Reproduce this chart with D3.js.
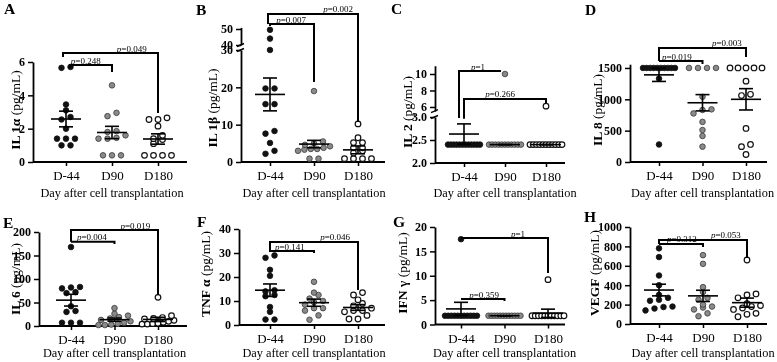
<!DOCTYPE html>
<html><head><meta charset="utf-8">
<script src="https://cdn.jsdelivr.net/npm/d3@7"></script>
<style>
body{margin:0;background:#fff;}
svg{display:block;font-family:"Liberation Serif","Times New Roman",serif;filter:grayscale(100%);}
</style></head><body>
<svg id="chart" width="777" height="362"></svg>
<script>
const categories = ["D-44","D90","D180"];
const xAxisTitle = "Day after cell transplantation";

// A: IL 1α
const il1aD44 = [5.7, 5.65, 3.45, 3.1, 2.7, 2.55, 2.0, 1.4, 1.4, 1.4, 1.0, 1.0];
const il1aD90 = [4.6, 2.95, 2.75, 1.85, 1.8, 1.6, 1.45, 1.4, 1.4, 0.4, 0.4, 0.4];
const il1aD180 = [2.65, 2.55, 2.55, 2.15, 1.6, 1.4, 1.35, 1.1, 0.4, 0.4, 0.4, 0.4];
const il1aMean = [2.58, 1.77, 1.38];
const il1aSem = [0.47, 0.37, 0.31];
const il1aP = ["0.049", "0.248"];
const il1aTicks = [0, 2, 4, 6];

// B: IL 1β (broken axis)
const il1bD44 = [49.5, 44, 30, 19.7, 19.7, 15.5, 15.5, 8.3, 7.6, 5.1, 3.0, 2.2];
const il1bD90 = [19, 5.5, 5.0, 4.6, 4.2, 3.8, 3.5, 3.5, 3.3, 3.0, 0.9, 0.9];
const il1bD180 = [10.2, 6.5, 5.2, 5.2, 3.8, 3.8, 3.0, 2.4, 0.9, 0.9, 0.9, 0.9];
const il1bMean = [18.1, 4.8, 3.25];
const il1bSem = [4.4, 1.0, 1.05];
const il1bP = ["0.002", "0.007"];
const il1bTicksLow = [0, 10, 20, 30];
const il1bTicksHigh = [40, 50];

// C: IL 2 (broken axis)
const il2D44 = [2.4, 2.4, 2.4, 2.4, 2.4, 2.4, 2.4, 2.4, 2.4, 2.4, 2.4, 2.4];
const il2D90 = [10.0, 2.4, 2.4, 2.4, 2.4, 2.4, 2.4, 2.4, 2.4, 2.4, 2.4, 2.4];
const il2D180 = [6.1, 2.4, 2.4, 2.4, 2.4, 2.4, 2.4, 2.4, 2.4, 2.4, 2.4, 2.4];
const il2Mean = [2.63, 2.4, 2.4];
const il2Sem = [0.22, 0, 0];
const il2P = ["1", "0.266"];
const il2TicksLow = [2.0, 2.5, 3.0];
const il2TicksHigh = [6, 8, 10];

// D: IL 8
const il8D44 = [1500, 1500, 1500, 1500, 1500, 1500, 1500, 1500, 1500, 1500, 1330, 280];
const il8D90 = [1500, 1500, 1500, 1500, 1040, 840, 830, 775, 640, 510, 415, 245];
const il8D180 = [1500, 1500, 1500, 1500, 1500, 1290, 1080, 1060, 535, 280, 245, 120];
const il8Mean = [1390, 945, 1000];
const il8Sem = [105, 130, 170];
const il8P = ["0.003", "0.019"];
const il8Ticks = [0, 500, 1000, 1500];

// E: IL 6
const il6D44 = [168, 83, 82, 80, 72, 70, 42, 32, 30, 7, 7, 7];
const il6D90 = [38, 26, 22, 19, 16, 13, 10, 7, 5, 3, 2, 2];
const il6D180 = [61, 22, 18, 16, 15, 12, 10, 8, 6, 5, 4, 4];
const il6Mean = [55, 13.5, 14];
const il6Sem = [12.5, 3.5, 4.5];
const il6P = ["0.019", "0.004"];
const il6Ticks = [0, 50, 100, 150, 200];

// F: TNF α
const tnfD44 = [29, 28, 23, 20.5, 14.5, 14, 12.5, 12, 7.5, 5.5, 2.3, 2.3];
const tnfD90 = [18, 13.5, 12.5, 11, 10, 9.5, 8.5, 7, 7, 6, 4, 2.2];
const tnfD180 = [13.5, 12.5, 10.5, 9, 8, 7, 6, 6, 5.5, 4, 2.5, 2.5];
const tnfMean = [14.5, 9.3, 7.3];
const tnfSem = [2.6, 1.5, 1.2];
const tnfP = ["0.046", "0.141"];
const tnfTicks = [0, 10, 20, 30, 40];

// G: IFN γ
const ifnD44 = [17.5, 1.8, 1.8, 1.8, 1.8, 1.8, 1.8, 1.8, 1.8, 1.8, 1.8, 1.8];
const ifnD90 = [1.8, 1.8, 1.8, 1.8, 1.8, 1.8, 1.8, 1.8, 1.8, 1.8, 1.8, 1.8];
const ifnD180 = [9.2, 1.8, 1.8, 1.8, 1.8, 1.8, 1.8, 1.8, 1.8, 1.8, 1.8, 1.8];
const ifnMean = [3.2, 1.8, 2.3];
const ifnSem = [1.35, 0, 0.85];
const ifnP = ["1", "0.359"];
const ifnTicks = [0, 5, 10, 15, 20];

// H: VEGF
const vegfD44 = [780, 690, 500, 400, 300, 270, 250, 240, 180, 175, 160, 140];
const vegfD90 = [710, 620, 380, 330, 270, 250, 200, 180, 170, 150, 110, 80];
const vegfD180 = [660, 310, 300, 270, 210, 190, 180, 165, 150, 110, 100, 75];
const vegfMean = [350, 290, 220];
const vegfSem = [60, 58, 47];
const vegfP = ["0.053", "0.312"];
const vegfTicks = [0, 200, 400, 600, 800, 1000];

const panels = [
  {key:"A", title:["IL 1α"," (pg/mL)"], groups:[il1aD44, il1aD90, il1aD180], mean:il1aMean, sem:il1aSem, p:il1aP, ticks:[il1aTicks]},
  {key:"B", title:["IL 1β"," (pg/mL)"], groups:[il1bD44, il1bD90, il1bD180], mean:il1bMean, sem:il1bSem, p:il1bP, ticks:[il1bTicksLow, il1bTicksHigh]},
  {key:"C", title:["IL 2"," (pg/mL)"], groups:[il2D44, il2D90, il2D180], mean:il2Mean, sem:il2Sem, p:il2P, ticks:[il2TicksLow, il2TicksHigh]},
  {key:"D", title:["IL 8"," (pg/mL)"], groups:[il8D44, il8D90, il8D180], mean:il8Mean, sem:il8Sem, p:il8P, ticks:[il8Ticks]},
  {key:"E", title:["IL 6"," (pg/mL)"], groups:[il6D44, il6D90, il6D180], mean:il6Mean, sem:il6Sem, p:il6P, ticks:[il6Ticks]},
  {key:"F", title:["TNF α"," (pg/mL)"], groups:[tnfD44, tnfD90, tnfD180], mean:tnfMean, sem:tnfSem, p:tnfP, ticks:[tnfTicks]},
  {key:"G", title:["IFN γ"," (pg/mL)"], groups:[ifnD44, ifnD90, ifnD180], mean:ifnMean, sem:ifnSem, p:ifnP, ticks:[ifnTicks]},
  {key:"H", title:["VEGF"," (pg/mL)"], groups:[vegfD44, vegfD90, vegfD180], mean:vegfMean, sem:vegfSem, p:vegfP, ticks:[vegfTicks]}
];

// layout: pixel geometry per panel; bracket heights in data units
const layout = {
  A:{letter:[4,14], ax:33, cx:[66,158], xEnd:187, titleX:15, titleY:110, xlabY:197,
     segs:[{dom:[0,6], rng:[162,62]}],
     br:[{from:0,to:2,y:6.54,l:6.3,r:2.94,t:1.43,dx0:-3},{from:0,to:1,y:5.82,l:5.64,r:5.4,t:0.43,dx0:4}]},
  B:{letter:[196,15], ax:241, cx:[270,358], xEnd:385, titleX:212, titleY:108, xlabY:197,
     segs:[{dom:[0,30], rng:[162,50]},{dom:[40,51], rng:[45,27.4], cut:35}],
     br:[{from:0,to:2,y:59.4,l:53.1,r:10.7,t:1.55,dx0:-2},{from:0,to:1,y:53.1,l:51.9,r:21.4,t:0.48,dx0:0}]},
  C:{letter:[391,14], ax:435, cx:[464,546], xEnd:565, titleX:407, titleY:112, xlabY:197,
     segs:[{dom:[2,3], rng:[163,117], fmt:".1f"},{dom:[5.5,11], rng:[111.1,65.75], cut:4}],
     br:[{from:0,to:1,y:10.36,l:2.98,r:10.36,t:0.34,dx0:-5,dx1:-4},{from:0,to:2,y:6.97,l:2.96,r:6.48,t:0.88,dx0:0}]},
  D:{letter:[585,15], ax:630, cx:[659,746], xEnd:767, titleX:597, titleY:110, xlabY:197,
     segs:[{dom:[0,1560], rng:[162,64.2]}],
     br:[{from:0,to:2,y:1819,l:1611,r:1675,t:1.56,dx0:0},{from:0,to:1,y:1611,l:1611,r:1564,t:0.41,dx0:0}]},
  E:{letter:[3,228], ax:39, cx:[71,158], xEnd:187, titleX:15, titleY:279, xlabY:357,
     segs:[{dom:[0,200], rng:[326,232]}],
     br:[{from:0,to:2,y:204,l:179,r:66,t:1.48,dx0:0},{from:0,to:1,y:179,l:179,r:174.5,t:0.48,dx0:0}]},
  F:{letter:[197,227], ax:239, cx:[270,358], xEnd:385, titleX:205, titleY:274, xlabY:357,
     segs:[{dom:[0,40], rng:[325,229]}],
     br:[{from:0,to:2,y:34.6,l:30.4,r:14.6,t:1.48,dx0:0},{from:0,to:1,y:30.8,l:30.8,r:30,t:0.45,dx0:0}]},
  G:{letter:[393,227], ax:435, cx:[461,548], xEnd:565, titleX:402, titleY:273, xlabY:357,
     segs:[{dom:[0,20], rng:[324.5,227]}],
     br:[{from:0,to:2,y:17.74,l:17.74,r:10.56,t:1.31,dx0:0},{from:0,to:1,y:5.23,l:5.23,r:4.8,t:0.53,dx0:0}]},
  H:{letter:[584,222], ax:630, cx:[659,747], xEnd:767, titleX:594, titleY:273, xlabY:357,
     segs:[{dom:[0,1000], rng:[324,227]}],
     br:[{from:0,to:2,y:866,l:825,r:680,t:1.52,dx0:0},{from:0,to:1,y:825,l:825,r:794,t:0.52,dx0:0}]}
};

const ptFill = ["#111111", "#8a8a8a", "#ffffff"];
const ptStroke = ["#111111", "#3a3a3a", "#111111"];
const serif = '"Liberation Serif","Times New Roman",serif';
const svg = d3.select("#chart");

function swarm(vals, y, cx) {
  const pts = vals.map(v => ({v, py: y(v)})).sort((a, b) => b.py - a.py);
  const rows = []; let cur = null;
  pts.forEach(p => {
    if (cur && Math.abs(p.py - cur[0].py) < 4.5) cur.push(p);
    else { cur = [p]; rows.push(cur); }
  });
  rows.forEach(r => {
    const k = r.length;
    const sp = k > 1 ? Math.min(9, 32 / (k - 1)) : 0;
    r.forEach((p, i) => { p.px = cx + (i - (k - 1) / 2) * sp; });
  });
  return pts;
}

panels.forEach(P => {
  const L = layout[P.key];
  const g = svg.append("g");
  const scales = L.segs.map(s => d3.scaleLinear().domain(s.dom).range(s.rng));
  const y = v => {
    for (let i = scales.length - 1; i > 0; i--) if (v >= L.segs[i].cut) return scales[i](v);
    return scales[0](v);
  };
  const x = d3.scalePoint().domain(categories).range(L.cx);
  const step = (L.cx[1] - L.cx[0]) / 2;
  const xAt = t => L.cx[0] + step * t;
  const baseY = L.segs[0].rng[0];

  // x axis
  g.append("line").attr("x1", L.ax).attr("x2", L.xEnd).attr("y1", baseY).attr("y2", baseY)
    .attr("stroke", "#000").attr("stroke-width", 1.8);
  const xa = g.append("g").attr("transform", `translate(0,${baseY})`)
    .call(d3.axisBottom(x).tickSize(4).tickSizeOuter(0).tickPadding(5));
  xa.select(".domain").remove();
  xa.selectAll("line").attr("stroke", "#000").attr("stroke-width", 1.5);
  xa.selectAll("text").attr("font-size", 13).attr("font-family", serif).attr("fill", "#000");

  // y axis segments
  L.segs.forEach((s, i) => {
    const ax = d3.axisLeft(scales[i]).tickValues(P.ticks[i]).tickSize(5).tickSizeOuter(0).tickPadding(3)
      .tickFormat(d3.format(s.fmt || "d"));
    const ya = g.append("g").attr("transform", `translate(${L.ax},0)`).call(ax);
    ya.select(".domain").attr("stroke", "#000").attr("stroke-width", 1.8);
    ya.selectAll("line").attr("stroke", "#000").attr("stroke-width", 1.5);
    ya.selectAll("text").attr("font-size", 12).attr("font-weight", "bold").attr("font-family", serif).attr("fill", "#000");
  });
  // break marks
  if (L.segs.length > 1) {
    [L.segs[0].rng[1], L.segs[1].rng[0]].forEach(yy => {
      g.append("line").attr("x1", L.ax - 4).attr("x2", L.ax + 3).attr("y1", yy + 1.5).attr("y2", yy - 1.5)
        .attr("stroke", "#000").attr("stroke-width", 1.4);
    });
  }

  // y title
  const tt = g.append("text").attr("transform", `translate(${L.titleX},${L.titleY}) rotate(-90)`)
    .attr("text-anchor", "middle").attr("dominant-baseline", "central")
    .attr("font-size", 13.5).attr("font-family", serif).attr("fill", "#000");
  tt.append("tspan").attr("font-weight", "bold").text(P.title[0]);
  tt.append("tspan").text(P.title[1]);

  // x title
  g.append("text").attr("x", x(categories[1])).attr("y", L.xlabY).attr("text-anchor", "middle")
    .attr("font-size", 12.3).attr("font-family", serif).attr("fill", "#000").text(xAxisTitle);

  // panel letter
  g.append("text").attr("x", L.letter[0]).attr("y", L.letter[1]).attr("font-size", 15.5)
    .attr("font-weight", "bold").attr("font-family", serif).attr("fill", "#000").text(P.key);

  // points
  P.groups.forEach((vals, gi) => {
    const pts = swarm(vals, y, x(categories[gi]));
    g.append("g").selectAll("circle").data(pts).join("circle")
      .attr("cx", d => d.px).attr("cy", d => d.py).attr("r", 2.8)
      .attr("fill", ptFill[gi]).attr("stroke", ptStroke[gi]).attr("stroke-width", gi === 2 ? 1.2 : 0.8);
  });

  // mean ± SEM
  categories.forEach((c, gi) => {
    const cx = x(c), m = P.mean[gi], s = P.sem[gi];
    const eb = g.append("g").attr("stroke", "#000").attr("stroke-width", 1.6);
    eb.append("line").attr("x1", cx - 15).attr("x2", cx + 15).attr("y1", y(m)).attr("y2", y(m));
    eb.append("line").attr("x1", cx).attr("x2", cx).attr("y1", y(m - s)).attr("y2", y(m + s));
    [m - s, m + s].forEach(v => eb.append("line").attr("x1", cx - 7).attr("x2", cx + 7).attr("y1", y(v)).attr("y2", y(v)));
  });

  // brackets
  L.br.forEach((b, bi) => {
    const x0 = xAt(b.from) + (b.dx0 || 0), x1 = xAt(b.to) + (b.dx1 || 0);
    const yb = y(b.y);
    g.append("path").attr("d", `M${x0},${y(b.l)}L${x0},${yb}L${x1},${yb}L${x1},${y(b.r)}`)
      .attr("fill", "none").attr("stroke", "#000").attr("stroke-width", 2);
    const t = g.append("text").attr("x", xAt(b.t)).attr("y", yb - 1.5).attr("text-anchor", "middle")
      .attr("font-size", 9).attr("font-family", serif).attr("fill", "#000");
    t.append("tspan").attr("font-style", "italic").text("p");
    t.append("tspan").text("=" + P.p[bi]);
  });
});
</script>
</body></html>
